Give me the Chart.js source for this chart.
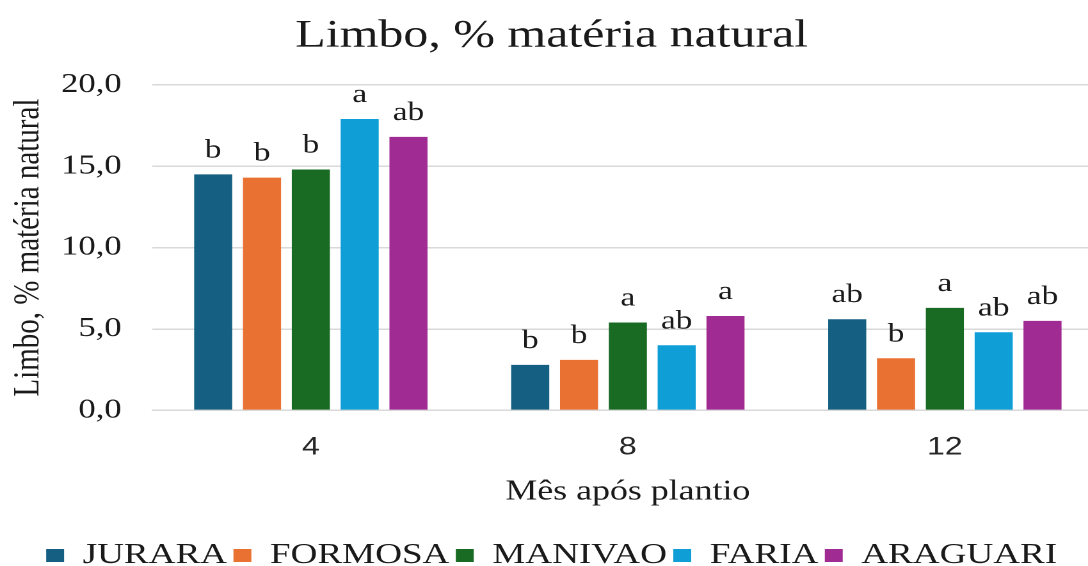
<!DOCTYPE html>
<html lang="pt">
<head>
<meta charset="utf-8">
<title>Limbo, % matéria natural</title>
<script src="https://cdn.jsdelivr.net/npm/chart.js@4.4.1/dist/chart.umd.min.js"></script>
<style>
  html, body { margin: 0; padding: 0; background: #fff; overflow: hidden; }
  #wrap { width: 1088px; height: 566px; overflow: hidden; }
  /* o gráfico é desenhado mais estreito e esticado na horizontal */
  #grafico { display: block; transform: scaleX(1.28); transform-origin: 0 0; }
</style>
</head>
<body>
<div id="wrap">
  <canvas id="grafico" width="862" height="566"></canvas>
</div>
<script>
// Meses após o plantio
const meses = ['4', '8', '12'];

// Limbo (% matéria natural) por variedade
const jurara   = [14.5, 2.8, 5.6];
const formosa  = [14.3, 3.1, 3.2];
const manivao  = [14.8, 5.4, 6.3];
const faria    = [17.9, 4.0, 4.8];
const araguari = [16.8, 5.8, 5.5];

// Letras do teste de médias, na mesma ordem
const letrasJurara   = ['b', 'b', 'ab'];
const letrasFormosa  = ['b', 'b', 'b'];
const letrasManivao  = ['b', 'a', 'a'];
const letrasFaria    = ['a', 'ab', 'ab'];
const letrasAraguari = ['ab', 'a', 'ab'];

// Marcas do eixo Y
const marcasY = [0, 5, 10, 15, 20];

const serif = "'Liberation Serif', 'Times New Roman', serif";

function serie(nome, valores, letras, cor) {
  return {
    label: nome,
    data: valores,
    letras: letras,
    backgroundColor: cor,
    borderColor: cor,
    borderWidth: 0,
    barPercentage: 0.78,
    categoryPercentage: 0.77
  };
}

// Plugin simples para escrever as letras em cima das barras
const letrasPlugin = {
  id: 'letras',
  afterDatasetsDraw(chart) {
    const ctx = chart.ctx;
    ctx.save();
    ctx.font = '26px ' + serif;
    ctx.fillStyle = '#1a1a1a';
    ctx.textAlign = 'center';
    ctx.textBaseline = 'alphabetic';
    chart.data.datasets.forEach((ds, i) => {
      chart.getDatasetMeta(i).data.forEach((bar, j) => {
        ctx.fillText(ds.letras[j], bar.x, bar.y - 17);
      });
    });
    ctx.restore();
  }
};

const ctx = document.getElementById('grafico').getContext('2d');

new Chart(ctx, {
  type: 'bar',
  data: {
    labels: meses,
    datasets: [
      serie('JURARA', jurara, letrasJurara, '#156082'),
      serie('FORMOSA', formosa, letrasFormosa, '#e97132'),
      serie('MANIVAO', manivao, letrasManivao, '#196b24'),
      serie('FARIA', faria, letrasFaria, '#0f9ed5'),
      serie('ARAGUARI', araguari, letrasAraguari, '#a02b93')
    ]
  },
  options: {
    responsive: false,
    devicePixelRatio: 2,
    animation: false,
    layout: {
      padding: { left: 0, right: 0, top: 0, bottom: -14 }
    },
    plugins: {
      title: {
        display: true,
        text: 'Limbo, % matéria natural',
        color: '#1a1a1a',
        font: { family: serif, size: 39, weight: 'normal' },
        padding: { top: 13, bottom: 25 }
      },
      legend: {
        position: 'bottom',
        labels: {
          color: '#1a1a1a',
          font: { family: serif, size: 29 },
          boxWidth: 14,
          boxHeight: 13,
          padding: 5
        }
      },
      tooltip: { enabled: false }
    },
    scales: {
      y: {
        min: 0,
        max: 20,
        afterBuildTicks: function(scale) {
          scale.ticks = marcasY.map(v => ({ value: v }));
        },
        afterFit: function(scale) {
          // largura fixa do eixo para alinhar a área do gráfico
          scale.width = 119;
        },
        grid: {
          color: '#d9d9d9',
          lineWidth: 1.5,
          drawTicks: false
        },
        border: { display: false },
        ticks: {
          padding: 24,
          color: '#1a1a1a',
          font: { family: serif, size: 27 },
          callback: function(value) {
            return value.toFixed(1).replace('.', ',');
          }
        },
        title: {
          display: true,
          text: 'Limbo, % matéria natural',
          color: '#1a1a1a',
          font: { family: serif, size: 29 },
          padding: { top: 5, bottom: 0 }
        }
      },
      x: {
        grid: { display: false, drawTicks: false },
        border: { display: true, color: '#d9d9d9', width: 1.5 },
        ticks: {
          padding: 22,
          color: '#262626',
          font: { family: "'Liberation Sans', Arial, sans-serif", size: 25 }
        },
        title: {
          display: true,
          text: 'Mês após plantio',
          color: '#1a1a1a',
          font: { family: serif, size: 28 },
          padding: { top: -9, bottom: 27 }
        }
      }
    }
  },
  plugins: [letrasPlugin]
});
</script>
</body>
</html>
